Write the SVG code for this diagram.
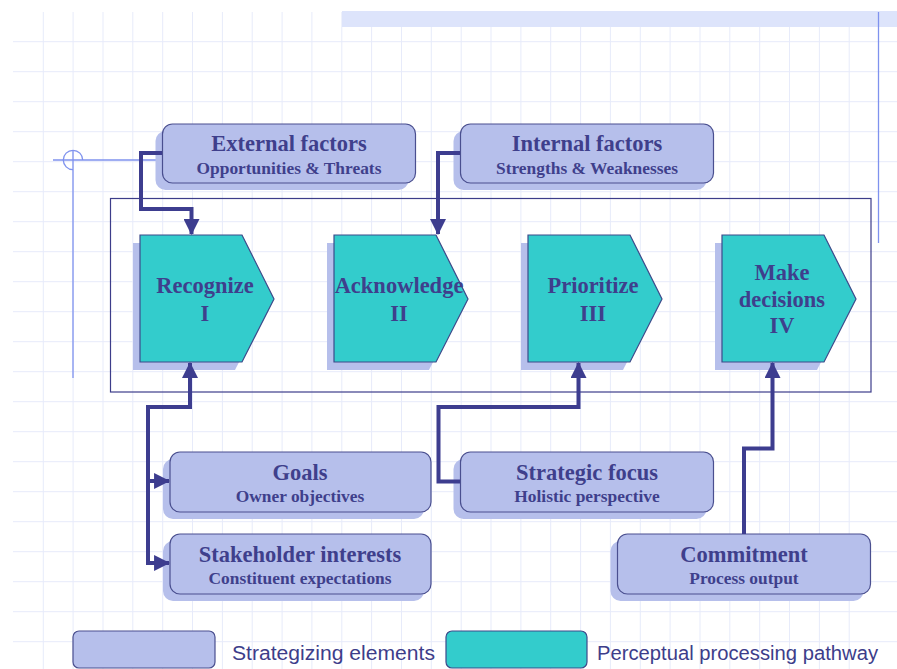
<svg xmlns="http://www.w3.org/2000/svg" width="897" height="669" viewBox="0 0 897 669">
  <defs>
    <style>
      .grid line { stroke: #e7ebfa; stroke-width: 1; }
      .box { fill: #b6bfeb; stroke: #4a4f8f; stroke-width: 1.2; }
      .shadow { fill: #b6bfeb; }
      .step { fill: #33cccc; stroke: #3d4a8a; stroke-width: 1.2; }
      .title { font-family: "Liberation Serif", "Times New Roman", serif; font-weight: bold; font-size: 22.5px; fill: #3f3f8c; text-anchor: middle; }
      .sub { font-family: "Liberation Serif", "Times New Roman", serif; font-weight: bold; font-size: 17.4px; fill: #3f3f8c; text-anchor: middle; }
      .conn { fill: none; stroke: #3d3d8f; stroke-width: 4; stroke-linejoin: miter; }
      .legend { font-family: "Liberation Sans", Arial, sans-serif; font-size: 20px; fill: #3d3d8a; }
      .guide { fill: none; stroke: #7f92ee; stroke-width: 1.3; }
    </style>
    <marker id="arrow" markerUnits="userSpaceOnUse" markerWidth="16" markerHeight="16" viewBox="0 0 15 15" refX="14" refY="7.5" orient="auto-start-reverse">
      <path d="M0,0 L15,7.5 L0,15 z" fill="#3d3d8f"/>
    </marker>
  </defs>

  <rect width="897" height="669" fill="#ffffff"/>

  <!-- background grid -->
  <g class="grid">
    <line x1="43.3" y1="12" x2="43.3" y2="669"/>
    <line x1="73.1" y1="12" x2="73.1" y2="669"/>
    <line x1="103" y1="12" x2="103" y2="669"/>
    <line x1="132.8" y1="12" x2="132.8" y2="669"/>
    <line x1="162.7" y1="12" x2="162.7" y2="669"/>
    <line x1="192.5" y1="12" x2="192.5" y2="669"/>
    <line x1="222.4" y1="12" x2="222.4" y2="669"/>
    <line x1="252.2" y1="12" x2="252.2" y2="669"/>
    <line x1="282.1" y1="12" x2="282.1" y2="669"/>
    <line x1="311.9" y1="12" x2="311.9" y2="669"/>
    <line x1="341.8" y1="12" x2="341.8" y2="669"/>
    <line x1="371.6" y1="12" x2="371.6" y2="669"/>
    <line x1="401.5" y1="12" x2="401.5" y2="669"/>
    <line x1="431.3" y1="12" x2="431.3" y2="669"/>
    <line x1="461.2" y1="12" x2="461.2" y2="669"/>
    <line x1="491" y1="12" x2="491" y2="669"/>
    <line x1="520.9" y1="12" x2="520.9" y2="669"/>
    <line x1="550.7" y1="12" x2="550.7" y2="669"/>
    <line x1="580.6" y1="12" x2="580.6" y2="669"/>
    <line x1="610.4" y1="12" x2="610.4" y2="669"/>
    <line x1="640.3" y1="12" x2="640.3" y2="669"/>
    <line x1="670.1" y1="12" x2="670.1" y2="669"/>
    <line x1="700" y1="12" x2="700" y2="669"/>
    <line x1="729.8" y1="12" x2="729.8" y2="669"/>
    <line x1="759.7" y1="12" x2="759.7" y2="669"/>
    <line x1="789.5" y1="12" x2="789.5" y2="669"/>
    <line x1="819.4" y1="12" x2="819.4" y2="669"/>
    <line x1="849.2" y1="12" x2="849.2" y2="669"/>
    <line x1="13" y1="41.7" x2="897" y2="41.7"/>
    <line x1="13" y1="71.7" x2="897" y2="71.7"/>
    <line x1="13" y1="101.7" x2="897" y2="101.7"/>
    <line x1="13" y1="131.7" x2="897" y2="131.7"/>
    <line x1="13" y1="161.7" x2="897" y2="161.7"/>
    <line x1="13" y1="191.7" x2="897" y2="191.7"/>
    <line x1="13" y1="221.7" x2="897" y2="221.7"/>
    <line x1="13" y1="251.7" x2="897" y2="251.7"/>
    <line x1="13" y1="281.7" x2="897" y2="281.7"/>
    <line x1="13" y1="311.7" x2="897" y2="311.7"/>
    <line x1="13" y1="341.7" x2="897" y2="341.7"/>
    <line x1="13" y1="371.7" x2="897" y2="371.7"/>
    <line x1="13" y1="401.7" x2="897" y2="401.7"/>
    <line x1="13" y1="431.7" x2="897" y2="431.7"/>
    <line x1="13" y1="461.7" x2="897" y2="461.7"/>
    <line x1="13" y1="491.7" x2="897" y2="491.7"/>
    <line x1="13" y1="521.7" x2="897" y2="521.7"/>
    <line x1="13" y1="551.7" x2="897" y2="551.7"/>
    <line x1="13" y1="581.7" x2="897" y2="581.7"/>
    <line x1="13" y1="611.7" x2="897" y2="611.7"/>
    <line x1="13" y1="641.7" x2="897" y2="641.7"/>
  </g>

  <!-- page decoration: top band, right rule, crosshair -->
  <rect x="342" y="11" width="555" height="16" fill="#dde4fb"/>
  <line class="guide" x1="878.5" y1="12" x2="878.5" y2="243"/>
  <line class="guide" x1="53" y1="160" x2="163" y2="160"/>
  <line class="guide" x1="73" y1="150" x2="73" y2="378"/>
  <path class="guide" d="M73,169.7 A9.7,9.7 0 1 1 82.7,160"/>

  <!-- process frame -->
  <rect x="110.5" y="198.5" width="760.5" height="193.5" fill="none" stroke="#3d3d8a" stroke-width="1.2"/>

  <!-- process steps -->
  <g id="step-recognize">
    <polygon class="shadow" points="133,243 235,243 267,307 235,370 133,370"/>
    <polygon class="step" points="140,235 242,235 274,299 242,362 140,362"/>
    <text class="title" x="205" y="293">Recognize</text>
    <text class="title" x="205" y="320.5">I</text>
  </g>
  <g id="step-acknowledge">
    <polygon class="shadow" points="327,243 429,243 461,307 429,370 327,370"/>
    <polygon class="step" points="334,235 436,235 468,299 436,362 334,362"/>
    <text class="title" x="399" y="293">Acknowledge</text>
    <text class="title" x="399" y="320.5">II</text>
  </g>
  <g id="step-prioritize">
    <polygon class="shadow" points="521,243 623,243 655,307 623,370 521,370"/>
    <polygon class="step" points="528,235 630,235 662,299 630,362 528,362"/>
    <text class="title" x="593" y="293">Prioritize</text>
    <text class="title" x="593" y="320.5">III</text>
  </g>
  <g id="step-decide">
    <polygon class="shadow" points="715,243 817,243 849,307 817,370 715,370"/>
    <polygon class="step" points="722,235 824,235 856,299 824,362 722,362"/>
    <text class="title" x="782" y="280">Make</text>
    <text class="title" x="782" y="306.5">decisions</text>
    <text class="title" x="782" y="333">IV</text>
  </g>

  <!-- strategizing elements -->
  <g id="external-factors">
    <rect class="shadow" x="155.5" y="131" width="253" height="59" rx="10"/>
    <rect class="box" x="162.5" y="124" width="253" height="59" rx="10"/>
    <text class="title" x="289" y="150.5">External factors</text>
    <text class="sub" x="289" y="173.5">Opportunities &amp; Threats</text>
  </g>
  <g id="internal-factors">
    <rect class="shadow" x="453.5" y="131" width="253" height="59" rx="10"/>
    <rect class="box" x="460.5" y="124" width="253" height="59" rx="10"/>
    <text class="title" x="587" y="150.5">Internal factors</text>
    <text class="sub" x="587" y="173.5">Strengths &amp; Weaknesses</text>
  </g>
  <g id="goals">
    <rect class="shadow" x="163" y="459" width="261" height="60" rx="10"/>
    <rect class="box" x="170" y="452" width="261" height="60" rx="10"/>
    <text class="title" x="300" y="480">Goals</text>
    <text class="sub" x="300" y="501.5">Owner objectives</text>
  </g>
  <g id="stakeholder-interests">
    <rect class="shadow" x="163" y="541" width="261" height="60" rx="10"/>
    <rect class="box" x="170" y="534" width="261" height="60" rx="10"/>
    <text class="title" x="300" y="561.5">Stakeholder interests</text>
    <text class="sub" x="300" y="583.5">Constituent expectations</text>
  </g>
  <g id="strategic-focus">
    <rect class="shadow" x="453.5" y="459" width="253" height="60" rx="10"/>
    <rect class="box" x="460.5" y="452" width="253" height="60" rx="10"/>
    <text class="title" x="587" y="480">Strategic focus</text>
    <text class="sub" x="587" y="501.5">Holistic perspective</text>
  </g>
  <g id="commitment">
    <rect class="shadow" x="610.5" y="541" width="253" height="60" rx="10"/>
    <rect class="box" x="617.5" y="534" width="253" height="60" rx="10"/>
    <text class="title" x="744" y="561.5">Commitment</text>
    <text class="sub" x="744" y="583.5">Process output</text>
  </g>

  <!-- connectors -->
  <g id="connectors">
    <path class="conn" d="M162,153 H141 V209 H191.5 V234" marker-end="url(#arrow)"/>
    <path class="conn" d="M460,153 H438 V234" marker-end="url(#arrow)"/>
    <path class="conn" d="M169,563 H148 V407 H190 V363" marker-start="url(#arrow)" marker-end="url(#arrow)"/>
    <path class="conn" d="M148,481 H169" marker-end="url(#arrow)"/>
    <path class="conn" d="M460,481.5 H438.5 V407 H578.5 V363" marker-end="url(#arrow)"/>
    <path class="conn" d="M744,534 V448.5 H772.5 V363" marker-end="url(#arrow)"/>
  </g>

  <!-- legend -->
  <g id="legend">
    <rect x="73" y="631" width="142" height="37" rx="6" fill="#b6bfeb" stroke="#4a4f8f" stroke-width="1.2"/>
    <text class="legend" x="232" y="660" textLength="203" lengthAdjust="spacingAndGlyphs">Strategizing elements</text>
    <rect x="446" y="631" width="141" height="37" rx="6" fill="#33cccc" stroke="#3d4a8a" stroke-width="1.2"/>
    <text class="legend" x="597" y="660" textLength="281" lengthAdjust="spacingAndGlyphs">Perceptual processing pathway</text>
  </g>
</svg>
